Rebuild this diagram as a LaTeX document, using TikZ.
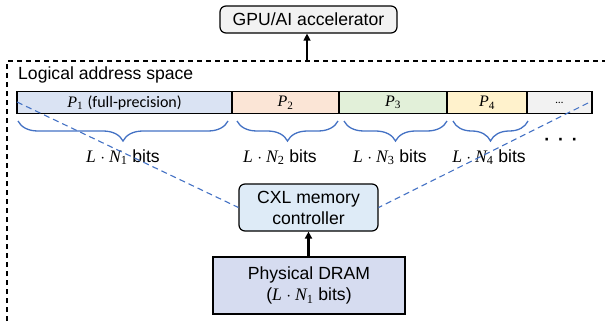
\documentclass[tikz,border=0pt]{standalone}
\usepackage{fontspec}
\setmainfont{Liberation Sans}
\newfontfamily\carl{Carlito}
\newfontfamily\mserif{Liberation Serif}
\newcommand\mv[2]{{\mserif\itshape #1}\textsubscript{\mserif #2}}
\newcommand\mdot{\hspace{0.22em}$\cdot$\hspace{0.22em}}
\usetikzlibrary{arrows.meta,decorations.pathreplacing}
\definecolor{gpufill}{HTML}{F2F2F2}
\definecolor{cxlfill}{HTML}{DEEBF7}
\definecolor{dramfill}{HTML}{D6DCF0}
\definecolor{pone}{HTML}{DAE3F3}
\definecolor{ptwo}{HTML}{FBE5D6}
\definecolor{pthree}{HTML}{E2F0D9}
\definecolor{pfour}{HTML}{FFF2CC}
\definecolor{pfive}{HTML}{F2F2F2}
\definecolor{accblue}{HTML}{4472C4}
\begin{document}
\begin{tikzpicture}[x=1pt,y=-1pt,
  every node/.style={font=\fontsize{17.6}{21}\selectfont, inner sep=0pt},
  rbox/.style={draw=black, line width=1.2pt, rounded corners=6pt, align=center},
  sqbox/.style={draw=black, line width=1.2pt, align=center},
  seg/.style={draw=black, line width=1.3pt, minimum height=21.5pt, font=\fontsize{16}{19}\selectfont},
  brc/.style={draw=accblue, line width=1.3pt, decorate, decoration={brace,mirror,amplitude=20pt}},
  bl/.style={draw=accblue, line width=1.1pt, dash pattern=on 6pt off 4pt},
  arr/.style={draw=black, line width=1.3pt, -{Triangle[width=7pt,length=7pt]}},
  frame/.style={draw=black, line width=1.3pt, dash pattern=on 5pt off 4pt}
]
\path[use as bounding box] (0,0) rectangle (605,324);

% outer dashed frame
\coordinate (fb) at (7,330);
\coordinate (ftl) at (7,61);
\coordinate (fr) at (612,61);
\draw[frame] (fb) -- (ftl) -- (fr);

\node[rbox, fill=gpufill, minimum width=177pt, minimum height=27pt] (gpu) at (308.5,19.5) {GPU/AI accelerator};
\coordinate (ftop) at (307,61);
\draw[arr] (ftop) -- (gpu.south -| ftop);

\node[anchor=west] (las) at (18,75) {Logical address space};

% bar segments
\node[seg, fill=pone, minimum width=215pt] (p1) at (124.5,102.5) {\mv{P}{1} {\carl (full-precision)}};
\node[seg, fill=ptwo, minimum width=107pt] (p2) at (285.5,102.5) {\mv{P}{2}};
\node[seg, fill=pthree, minimum width=108pt] (p3) at (393,102.5) {\mv{P}{3}};
\node[seg, fill=pfour, minimum width=80pt] (p4) at (487,102.5) {\mv{P}{4}};
\node[seg, fill=pfive, minimum width=65pt] (p5) at (559.5,102.5) {{\carl\fontsize{11}{13}\selectfont\ldots}};

% braces
\draw[brc] (18,121) -- (228,121);
\draw[brc] (237,121) -- (338,121);
\draw[brc] (344,121) -- (447,121);
\draw[brc] (453,121) -- (528,121);

\node (b1) at (123,157) {\mv{L}{}\mdot\mv{N}{1} bits};
\node (b2) at (280,157) {\mv{L}{}\mdot\mv{N}{2} bits};
\node (b3) at (390,157) {\mv{L}{}\mdot\mv{N}{3} bits};
\node (b4) at (489,157) {\mv{L}{}\mdot\mv{N}{4} bits};
\node (bd) at (561,142) {{\bfseries ·\hspace{0.45em}·\hspace{0.45em}·}};

% controller and DRAM
\node[rbox, fill=cxlfill, minimum width=139pt, minimum height=47pt] (cxl) at (308.5,207.5) {CXL memory\\controller};
\node[sqbox, fill=dramfill, minimum width=192pt, minimum height=57pt] (dram) at (309,285.5) {Physical DRAM\\(\mv{L}{}\mdot\mv{N}{1} bits)};
\draw[arr, line width=2.2pt] (dram.north -| cxl.south) -- (cxl.south);

% blue dashed lines
\coordinate (ls) at (17,102);
\coordinate (rs) at (588,103);
\draw[bl] (ls) -- (cxl.west);
\draw[bl] (rs) -- (cxl.east);
\end{tikzpicture}
\end{document}
